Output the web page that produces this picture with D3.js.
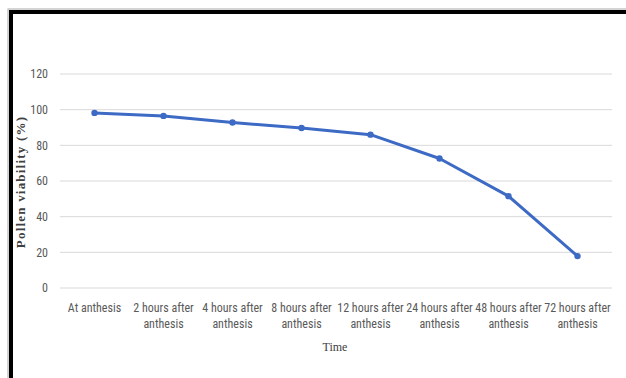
<!DOCTYPE html>
<html><head><meta charset="utf-8">
<script src="https://cdn.jsdelivr.net/npm/d3@7"></script>
<style>html,body{margin:0;padding:0;background:#fff;}svg{display:block;}</style>
</head><body>
<svg id="c" width="626" height="378"></svg>
<script>
const categories = [["At anthesis"],["2 hours after","anthesis"],["4 hours after","anthesis"],["8 hours after","anthesis"],["12 hours after","anthesis"],["24 hours after","anthesis"],["48 hours after","anthesis"],["72 hours after","anthesis"]];
const viability = [98.2, 96.5, 92.8, 89.7, 86.0, 72.6, 51.5, 17.9];
const yTicks = [0, 20, 40, 60, 80, 100, 120];
const yTitle = "Pollen viability  (%)";
const xTitle = "Time";

const svg = d3.select("#c");
const m = {left: 60, right: 14, top: 74, bottom: 90};
// frame
svg.append("rect").attr("x", 8).attr("y", 9).attr("width", 620).attr("height", 380).attr("fill", "#fff").attr("stroke", "#aaa").attr("stroke-width", 1);
svg.append("line").attr("x1", 11).attr("x2", 11).attr("y1", 10).attr("y2", 378).attr("stroke", "#000").attr("stroke-width", 4);
svg.append("line").attr("x1", 9).attr("x2", 626).attr("y1", 12).attr("y2", 12).attr("stroke", "#000").attr("stroke-width", 4);

const idx = d3.range(categories.length);
const x = d3.scalePoint().domain(idx).range([m.left, 612]).padding(0.5);
const y = d3.scaleLinear().domain([0, 120]).range([288, 74]);

const font = "'Liberation Sans Narrow','Arial Narrow','Roboto Condensed',Roboto,sans-serif";

// grid
svg.append("g").selectAll("line").data(yTicks).join("line")
  .attr("x1", m.left).attr("x2", 612)
  .attr("y1", d => y(d)).attr("y2", d => y(d))
  .attr("stroke", "#d9d9d9").attr("stroke-width", 1);

// y tick labels
svg.append("g").selectAll("text").data(yTicks).join("text")
  .attr("x", 48).attr("y", d => y(d)).attr("dy", "0.35em")
  .attr("text-anchor", "end").attr("font-family", font).attr("font-size", 12)
  .attr("fill", "#595959").text(d => d);

// x labels
const xl = svg.append("g").selectAll("text").data(idx).join("text")
  .attr("x", d => x(d)).attr("y", 312)
  .attr("text-anchor", "middle").attr("font-family", font).attr("font-size", 12)
  .attr("fill", "#595959");
xl.each(function(d){
  const t = d3.select(this);
  categories[d].forEach((s, i) => t.append("tspan").attr("x", x(d)).attr("dy", i === 0 ? 0 : 16).text(s));
});

// line
const line = d3.line().x((d, i) => x(i)).y(d => y(d));
svg.append("path").datum(viability).attr("d", line)
  .attr("fill", "none").attr("stroke", "#3d6ac4").attr("stroke-width", 3).attr("stroke-linejoin", "round");
svg.append("g").selectAll("circle").data(viability).join("circle")
  .attr("cx", (d, i) => x(i)).attr("cy", d => y(d)).attr("r", 3.2)
  .attr("fill", "#3d6ac4");

// titles
svg.append("text").attr("x", 335).attr("y", 351).attr("text-anchor", "middle")
  .attr("font-family", "'Liberation Serif','Times New Roman',serif").attr("font-size", 12).attr("fill", "#404040").text(xTitle);
svg.append("text").attr("transform", "translate(25,182) rotate(-90)").attr("text-anchor", "middle")
  .attr("font-family", "'Liberation Serif','Times New Roman',serif").attr("font-weight", "bold").attr("font-size", 13)
  .attr("letter-spacing", 1.2).attr("fill", "#404040").text(yTitle);
</script>
</body></html>
